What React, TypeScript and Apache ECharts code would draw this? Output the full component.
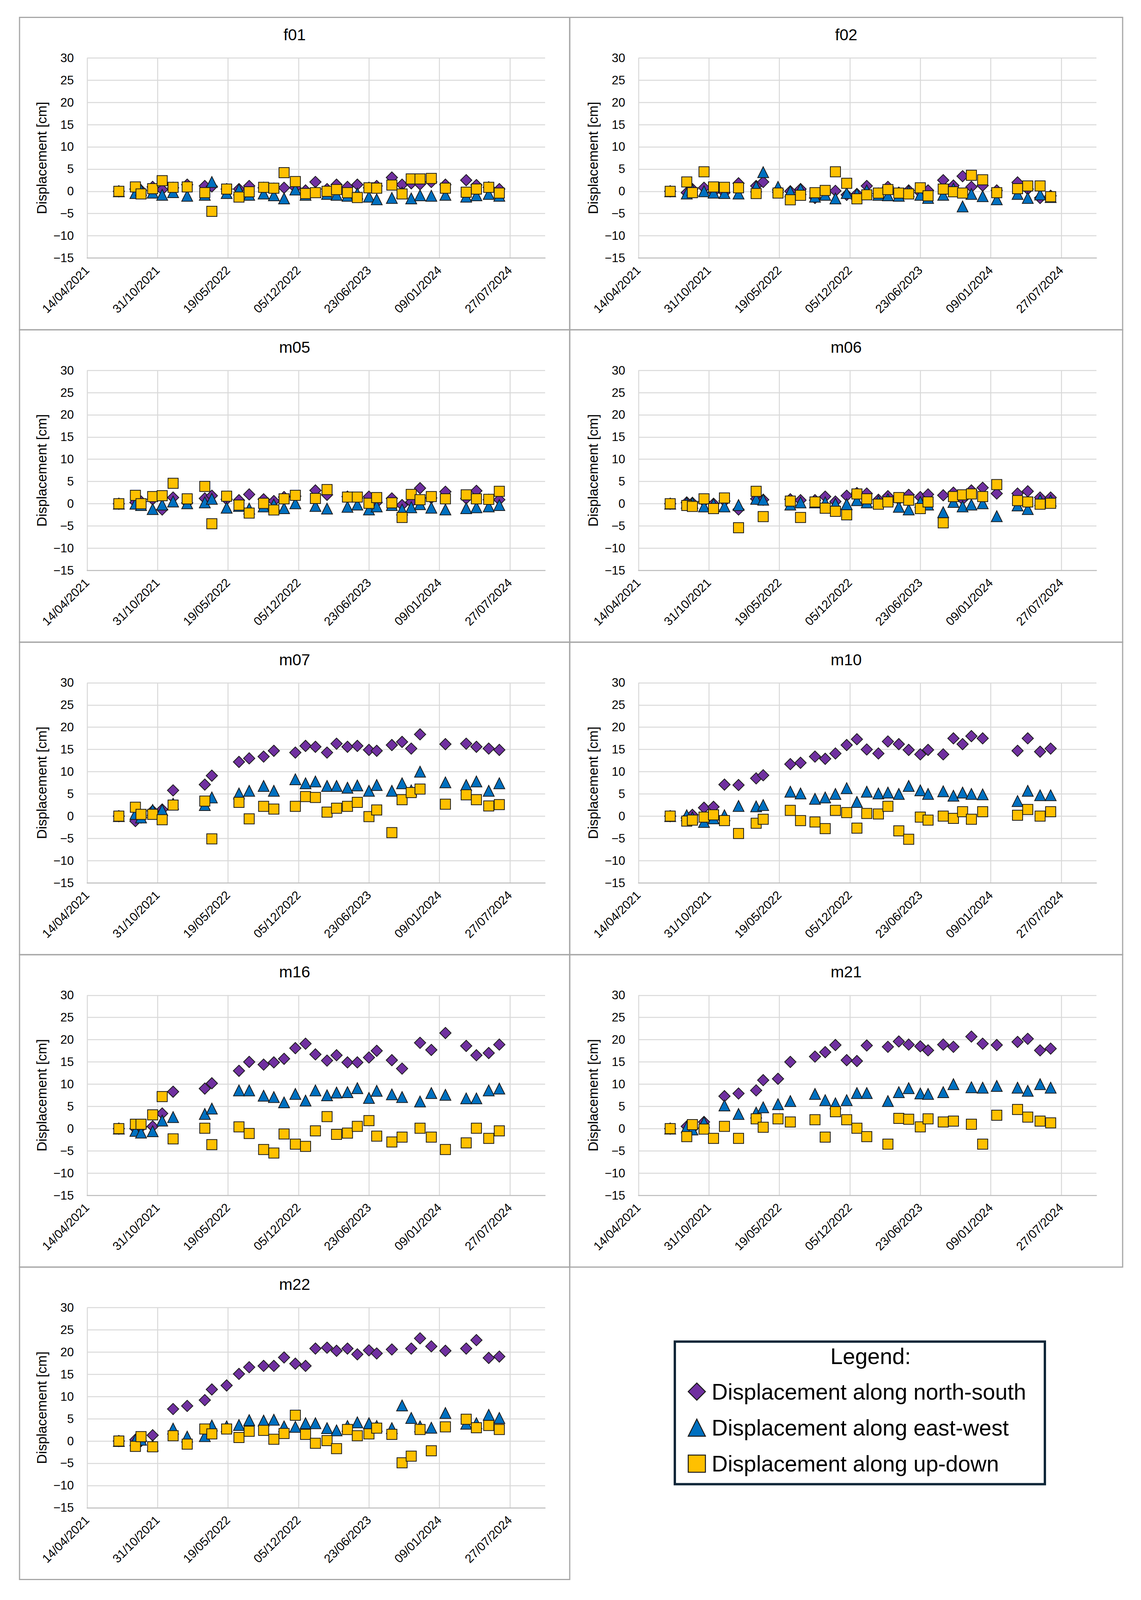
import React, { useEffect, useRef } from 'react';
import * as echarts from 'echarts';

// survey dates shared by every station
const dates = [
  '2021-07-13', '2021-08-29', '2021-09-14', '2021-10-17', '2021-11-13', '2021-12-14',
  '2022-01-23', '2022-03-14', '2022-04-03', '2022-05-15', '2022-06-19', '2022-07-18',
  '2022-08-28', '2022-09-26', '2022-10-25', '2022-11-26', '2022-12-25', '2023-01-22',
  '2023-02-24', '2023-03-23', '2023-04-23', '2023-05-21', '2023-06-23', '2023-07-15',
  '2023-08-27', '2023-09-25', '2023-10-21', '2023-11-15', '2023-12-17', '2024-01-26',
  '2024-03-25', '2024-04-23', '2024-05-28', '2024-06-27',
];

const seriesNames = [
  'Displacement along north-south',
  'Displacement along east-west',
  'Displacement along up-down',
];

// displacement [cm], one value per date (null = no survey)
const f01NS = [0, 0.5, 0.2, 1.0, 0.4, 0.8, 1.5, 1.2, 1.1, 0.5, 0.5, 1.2, 0.8, 0.6, 0.8, 0.8, 0.2, 2.1, 0.5, 1.5, 1.0, 1.5, 0.8, 1.2, 3.1, 1.5, 1.8, 1.6, 2.1, 1.5, 2.5, 1.4, 0.9, 0.5];
const f01EW = [0, -0.4, 0.3, -0.3, -0.8, -0.2, -1.0, -0.8, 2.1, -0.4, 0.4, -0.8, -0.5, -0.9, -1.6, 0.4, -0.8, -0.2, -0.6, -0.8, -1.0, -0.5, -1.2, -1.8, -1.5, -0.3, -1.6, -0.9, -1.0, -0.8, -1.2, -0.9, -0.6, -1.0];
const f01UD = [0, 1.0, -0.6, 0.6, 2.4, 0.9, 1.0, -0.3, -4.5, 0.5, -1.3, -0.1, 0.9, 0.7, 4.2, 2.2, -0.5, -0.3, 0.0, 0.4, -0.3, -1.4, 0.8, 0.7, 1.4, -0.6, 2.8, 2.8, 2.9, 0.7, -0.2, 0.5, 0.9, -0.4];

const f02NS = [0, -0.3, 0.5, 0.8, -0.2, -0.3, 1.8, 1.2, 2.1, 0.3, 0.0, 0.5, -1.5, -0.5, 0.1, -0.8, -0.6, 1.2, -0.5, 1.0, -0.3, 0.2, -0.3, 0.2, 2.5, 1.3, 3.4, 1.0, 1.3, 0.2, 2.0, 0.5, -1.5, -1.0];
const f02EW = [0, -0.5, 0.3, 0.0, -0.3, -0.4, -0.5, 1.1, 4.3, 1.0, 0.0, 0.5, -1.2, -0.8, -1.6, -0.4, -0.6, 0.2, -0.8, -0.9, -1.0, 0.0, -0.8, -1.5, -0.8, 0.6, -3.4, -0.6, -1.1, -1.8, -0.6, -1.5, -0.7, -1.3];
const f02UD = [0, 2.1, -0.3, 4.4, 1.0, 0.9, 0.8, -0.5, null, -0.4, -1.9, -0.9, -0.3, 0.2, 4.4, 1.8, -1.7, -0.8, -0.4, 0.4, -0.4, -0.6, 0.8, -1.0, 0.5, -0.1, -0.4, 3.6, 2.6, -0.3, 0.6, 1.2, 1.2, -1.2];

const m05NS = [0, 0.3, 0.5, 1.0, -1.3, 1.4, 0.2, 1.2, 1.8, 1.0, 0.8, 2.1, 1.0, 0.6, 1.5, 1.7, null, 3.0, 2.0, null, 1.6, 1.3, 1.6, 0.3, 1.2, -0.3, 0.4, 3.5, 1.3, 2.7, 1.2, 2.9, 0.9, 0.9];
const m05EW = [0, 0.0, -0.3, -1.2, -0.2, 0.5, 0.1, 0.3, 1.1, -0.9, -0.5, -1.1, -0.6, -0.2, -1.0, 0.1, null, -0.5, -1.1, null, -0.7, -0.2, -1.3, -0.6, -0.3, -1.3, -0.8, -0.1, -0.9, -1.3, -1.0, -0.8, -0.6, -0.3];
const m05UD = [0, 1.9, 0.0, 1.6, 1.8, 4.6, 1.1, 3.9, -4.5, 1.7, -0.3, -2.1, 0.1, -1.4, 1.1, 1.9, null, 1.2, 3.2, null, 1.5, 1.5, 0.1, 1.4, 0.2, -3.1, 2.1, 0.9, 1.6, 1.1, 2.0, 1.1, 1.0, 2.8];

const m06NS = [0, 0.3, 0.2, 0.5, 0.0, 0.6, -1.3, 1.1, 0.9, null, 1.0, 0.8, 0.8, 1.6, 0.5, 1.8, 2.4, 2.3, 0.9, 1.7, 1.0, 2.0, 1.5, 2.1, 1.9, 2.5, 1.0, 3.0, 3.6, 2.3, 2.3, 2.8, 1.4, 1.4];
const m06EW = [0, 0.2, 0.2, -0.6, -0.1, -0.6, -0.3, 1.1, 0.9, null, -0.2, 0.3, 0.3, 0.3, 0.0, -0.1, 0.8, 0.3, 0.6, 1.0, -0.7, -1.3, 0.4, -0.2, -1.9, 0.4, -0.6, -0.2, 0.1, -2.8, -0.4, -1.2, 0.8, 0.7];
const m06UD = [0, -0.4, -0.6, 1.1, -1.1, 1.3, -5.4, 2.8, -2.9, null, 0.6, -3.1, 0.4, -1.0, -1.7, -2.5, 2.2, 1.1, -0.1, 0.4, 1.4, 0.8, -1.1, 0.4, -4.3, 1.6, 2.0, 2.2, 1.6, 4.3, 0.7, 0.4, -0.1, 0.1];

const m07NS = [0, -1.1, -0.3, 1.2, 1.5, 5.8, null, 7.1, 9.1, null, 12.2, 13.0, 13.4, 14.7, null, 14.3, 15.8, 15.6, 14.3, 16.3, 15.6, 15.8, 14.9, 14.7, 16.0, 16.7, 15.2, 18.4, null, 16.2, 16.3, 15.6, 15.2, 14.9];
const m07EW = [0, 0.5, -0.3, 1.4, 1.4, 2.8, null, 2.5, 4.2, null, 5.1, 5.7, 6.8, 5.7, null, 8.3, 7.4, 7.8, 6.8, 6.8, 6.4, 6.9, 5.7, 7.0, 5.7, 7.4, 5.8, 10.0, null, 7.6, 7.0, 7.8, 5.7, 7.4];
const m07UD = [0, 2.0, 0.4, 0.4, -0.8, 2.5, null, 3.4, -5.1, null, 3.1, -0.6, 2.2, 1.6, null, 2.2, 4.4, 4.2, 0.9, 1.8, 2.2, 3.1, -0.1, 1.4, -3.7, 3.7, 5.3, 6.1, null, 2.7, 4.8, 3.7, 2.3, 2.6];

const m10NS = [0, -0.4, 0.3, 1.9, 2.1, 7.1, 7.0, 8.5, 9.2, null, 11.7, 12.0, 13.4, 12.9, 14.1, 16.0, 17.3, 15.0, 14.1, 16.8, 16.2, 14.9, 13.9, 14.9, 13.9, 17.5, 16.2, 18.0, 17.5, null, 14.7, 17.5, 14.5, 15.2];
const m10EW = [0, 0.2, -0.3, -1.3, -0.5, 0.2, 2.3, 2.2, 2.5, null, 5.5, 5.1, 3.9, 4.2, 5.0, 6.3, 3.2, 5.5, 5.1, 5.3, 5.0, 6.8, 5.8, 5.0, 5.6, 4.6, 5.3, 5.0, 4.9, null, 3.4, 5.7, 4.7, 4.7];
const m10UD = [0, -1.1, -0.9, -0.2, 0.3, -1.0, -3.9, -1.6, -0.7, null, 1.3, -1.0, -1.3, -2.8, 1.3, 0.8, -2.7, 0.6, 0.5, 2.2, -3.3, -5.2, -0.2, -0.9, 0.0, -0.5, 1.0, -0.7, 1.0, null, 0.2, 1.5, 0.0, 1.0];

const m16NS = [0, 0.0, 0.3, 0.5, 3.4, 8.3, null, 9.0, 10.2, null, 13.0, 15.0, 14.4, 14.9, 15.7, 18.1, 19.1, 16.7, 15.3, 16.5, 14.9, 14.9, 16.0, 17.5, 15.4, 13.5, null, 19.3, 17.7, 21.5, 18.6, 16.5, 17.0, 18.9];
const m16EW = [0, -0.5, -0.9, -0.6, 1.8, 2.6, null, 3.3, 4.5, null, 8.6, 8.6, 7.4, 7.1, 5.9, 7.8, 6.3, 8.6, 7.5, 8.1, 8.2, 9.1, 6.9, 8.5, 7.7, 7.1, null, 6.1, 8.0, 7.6, 6.8, 6.8, 8.6, 9.0];
const m16UD = [0, 1.0, 1.0, 3.1, 7.2, -2.3, null, 0.1, -3.6, null, 0.4, -1.1, -4.7, -5.5, -1.2, -3.5, -4.0, -0.5, 2.7, -1.3, -1.0, 0.5, 1.8, -1.7, -3.0, -1.9, null, 0.1, -1.9, -4.7, -3.2, 0.1, -2.2, -0.5];

const m21NS = [0, 0.5, 0.0, 1.5, null, 7.3, 7.9, 8.6, 10.9, 11.2, 15.0, null, 16.2, 17.2, 18.8, 15.4, 15.2, 18.7, null, 18.4, 19.6, 18.9, 18.5, 17.6, 18.9, 18.4, null, 20.7, 19.1, 18.8, 19.5, 20.2, 17.6, 18.0];
const m21EW = [0, 0.3, -0.2, 1.4, null, 5.2, 3.3, 3.6, 4.8, 5.5, 6.2, null, 7.8, 6.4, 5.7, 6.4, 8.0, 8.0, null, 6.2, 8.2, 9.1, 7.9, 7.8, 8.2, 10.0, null, 9.3, 9.2, 9.6, 9.2, 8.5, 10.0, 9.2];
const m21UD = [0, -1.8, 0.9, -0.1, -2.2, 0.5, -2.2, 2.2, 0.3, 2.2, 1.5, null, 2.0, -1.9, 3.8, 2.0, 0.1, -1.8, null, -3.5, 2.3, 2.1, 0.4, 2.2, 1.5, 1.7, null, 1.0, -3.5, 3.0, 4.3, 2.6, 1.7, 1.3];

const m22NS = [0, 0.3, 0.0, 1.3, null, 7.2, 7.9, 9.2, 11.6, 12.5, 15.1, 16.6, 16.9, 16.9, 18.8, 17.4, 16.9, 20.8, 21.0, 20.3, 20.8, 19.5, 20.4, 19.7, 20.6, null, 20.8, 23.1, 21.3, 20.3, 20.8, 22.7, 18.7, 19.0];
const m22EW = [0, 0.2, 0.3, -1.0, null, 2.8, 1.0, 1.1, 3.5, 3.3, 3.6, 4.7, 4.6, 4.8, 3.3, 3.2, 4.0, 4.0, 2.9, 2.4, 3.4, 4.2, 4.0, 3.4, 2.9, 8.0, 5.2, 3.3, 3.0, 6.3, 3.9, 4.0, 5.9, 5.2];
const m22UD = [0, -1.2, 1.0, -1.3, null, 1.2, -0.7, 2.7, 1.6, 2.7, 0.8, 2.2, 2.4, 0.4, 1.7, 5.8, 1.5, -0.5, 0.1, -1.7, 2.6, 1.2, 1.6, 2.9, 1.5, -4.9, -3.4, 2.6, -2.2, 3.2, 4.9, 3.0, 3.5, 2.6];

const stations = [
  { name: 'f01', values: [f01NS, f01EW, f01UD] },
  { name: 'f02', values: [f02NS, f02EW, f02UD] },
  { name: 'm05', values: [m05NS, m05EW, m05UD] },
  { name: 'm06', values: [m06NS, m06EW, m06UD] },
  { name: 'm07', values: [m07NS, m07EW, m07UD] },
  { name: 'm10', values: [m10NS, m10EW, m10UD] },
  { name: 'm16', values: [m16NS, m16EW, m16UD] },
  { name: 'm21', values: [m21NS, m21EW, m21UD] },
  { name: 'm22', values: [m22NS, m22EW, m22UD] },
];

const FONT = '"Liberation Sans", Arial, sans-serif';
const DAY = 86400000;
const BASE = Date.UTC(2021, 3, 14); // 14/04/2021, axis origin

const toDay = (iso: string) => (Date.parse(iso) - BASE) / DAY;
const fmtDate = (d: number) => {
  const t = new Date(BASE + d * DAY);
  const dd = String(t.getUTCDate()).padStart(2, '0');
  const mm = String(t.getUTCMonth() + 1).padStart(2, '0');
  return `${dd}/${mm}/${t.getUTCFullYear()}`;
};

// the browser only photographs 4096px of height, so the 4614px tall
// layout is squeezed vertically; fonts shrink a little to keep it fitting
const PAGE_W = 2920;
const PAGE_H = 4096;
const SY = PAGE_H / 4614;
const FS = 0.95;
const y = (v: number) => Math.round(v * SY * 10) / 10;
const f = (v: number) => Math.round(v * FS);

const markers = [
  { symbol: 'diamond', size: 29, color: '#7030A0' },
  { symbol: 'triangle', size: 28, color: '#0070C0' },
  { symbol: 'rect', size: 26, color: '#FFC000' },
];

const colLeft = [50, 1458];
const colWidth = [1408, 1415];
const rowTop = 50;
const rowH = 901;

export default function App() {
  const ref = useRef<HTMLDivElement>(null);

  useEffect(() => {
    if (!ref.current) return;
    document.body.style.margin = '0';
    const chart = echarts.init(ref.current, null, { renderer: 'svg' });

    const grids: any[] = [];
    const xAxes: any[] = [];
    const yAxes: any[] = [];
    const series: any[] = [];
    const graphics: any[] = [];

    stations.forEach((st, i) => {
      const c = i % 2;
      const r = Math.floor(i / 2);
      const px = colLeft[c];
      const py = rowTop + r * rowH;

      graphics.push({
        type: 'rect',
        shape: { x: px, y: y(py), width: colWidth[c], height: y(rowH) },
        style: { fill: 'none', stroke: '#a6a6a6', lineWidth: 3 },
        silent: true,
      });
      graphics.push({
        type: 'text',
        x: px + colWidth[c] / 2,
        y: y(py + 50),
        style: {
          text: st.name,
          fontSize: f(43),
          fontFamily: FONT,
          fill: '#000',
          align: 'center',
          verticalAlign: 'middle',
        },
        silent: true,
      });

      grids.push({
        left: px + (c === 0 ? 173 : 176),
        top: y(py + 117),
        width: 1172,
        height: y(577),
      });

      xAxes.push({
        type: 'value',
        gridIndex: i,
        min: 0,
        max: 1300,
        interval: 200,
        axisLine: { show: true, onZero: false, lineStyle: { color: '#bfbfbf', width: 2.5 } },
        axisTick: { show: false },
        axisLabel: {
          rotate: 45,
          margin: 26,
          fontSize: f(33),
          color: '#000',
          fontFamily: FONT,
          formatter: (v: number) => (v > 1250 ? '' : fmtDate(v)),
        },
        splitLine: { show: true, showMaxLine: false, lineStyle: { color: '#d9d9d9', width: 2.5 } },
      });

      yAxes.push({
        type: 'value',
        gridIndex: i,
        min: -15,
        max: 30,
        interval: 5,
        name: 'Displacement [cm]',
        nameLocation: 'middle',
        nameRotate: 90,
        nameGap: 99,
        nameTextStyle: { fontSize: f(37), color: '#000', fontFamily: FONT },
        axisLine: { show: false },
        axisTick: { show: false },
        axisLabel: {
          margin: 34,
          fontSize: f(33),
          color: '#000',
          fontFamily: FONT,
          formatter: (v: number) => (v < 0 ? '\u2212' + Math.abs(v) : String(v)),
        },
        splitLine: { show: true, lineStyle: { color: '#d9d9d9', width: 2.5 } },
      });

      st.values.forEach((vals, k) => {
        const m = markers[k];
        series.push({
          type: 'scatter',
          name: seriesNames[k],
          xAxisIndex: i,
          yAxisIndex: i,
          symbol: m.symbol,
          symbolSize: m.size,
          itemStyle: { color: m.color, borderColor: '#1a1a1a', borderWidth: 2, opacity: 1 },
          emphasis: { disabled: true },
          data: dates
            .map((d, j) => (vals[j] == null ? null : [toDay(d), vals[j]]))
            .filter((p) => p !== null),
        });
      });
    });

    const legendFont = 57;
    const legendIcon = 44;
    const rowGap = y(104);

    // legend frame and heading
    graphics.push({
      type: 'rect',
      shape: { x: 1727, y: y(3869), width: 947, height: y(411) },
      style: { fill: 'none', stroke: '#0e2638', lineWidth: 6 },
      silent: true,
    });
    graphics.push({
      type: 'text',
      x: 2228,
      y: y(3911),
      style: {
        text: 'Legend:',
        fontSize: legendFont,
        fontFamily: FONT,
        fill: '#000',
        align: 'center',
        verticalAlign: 'middle',
      },
      silent: true,
    });

    chart.setOption({
      animation: false,
      backgroundColor: '#fff',
      grid: grids,
      xAxis: xAxes,
      yAxis: yAxes,
      series,
      graphic: graphics,
      legend: {
        orient: 'vertical',
        left: 1782 - legendIcon / 2,
        top: y(4013) - legendFont / 2,
        padding: 0,
        itemWidth: legendIcon,
        itemHeight: legendIcon,
        itemGap: rowGap - legendFont,
        selectedMode: false,
        data: seriesNames,
        itemStyle: { borderColor: '#1a1a1a', borderWidth: 2.5 },
        textStyle: {
          fontSize: legendFont,
          lineHeight: legendFont,
          color: '#000',
          fontFamily: FONT,
          padding: [0, 0, 0, 1820 - 1782 - legendIcon / 2 - 5],
        },
      },
    });

    return () => chart.dispose();
  }, []);

  return <div ref={ref} style={{ width: PAGE_W, height: PAGE_H }} />;
}
